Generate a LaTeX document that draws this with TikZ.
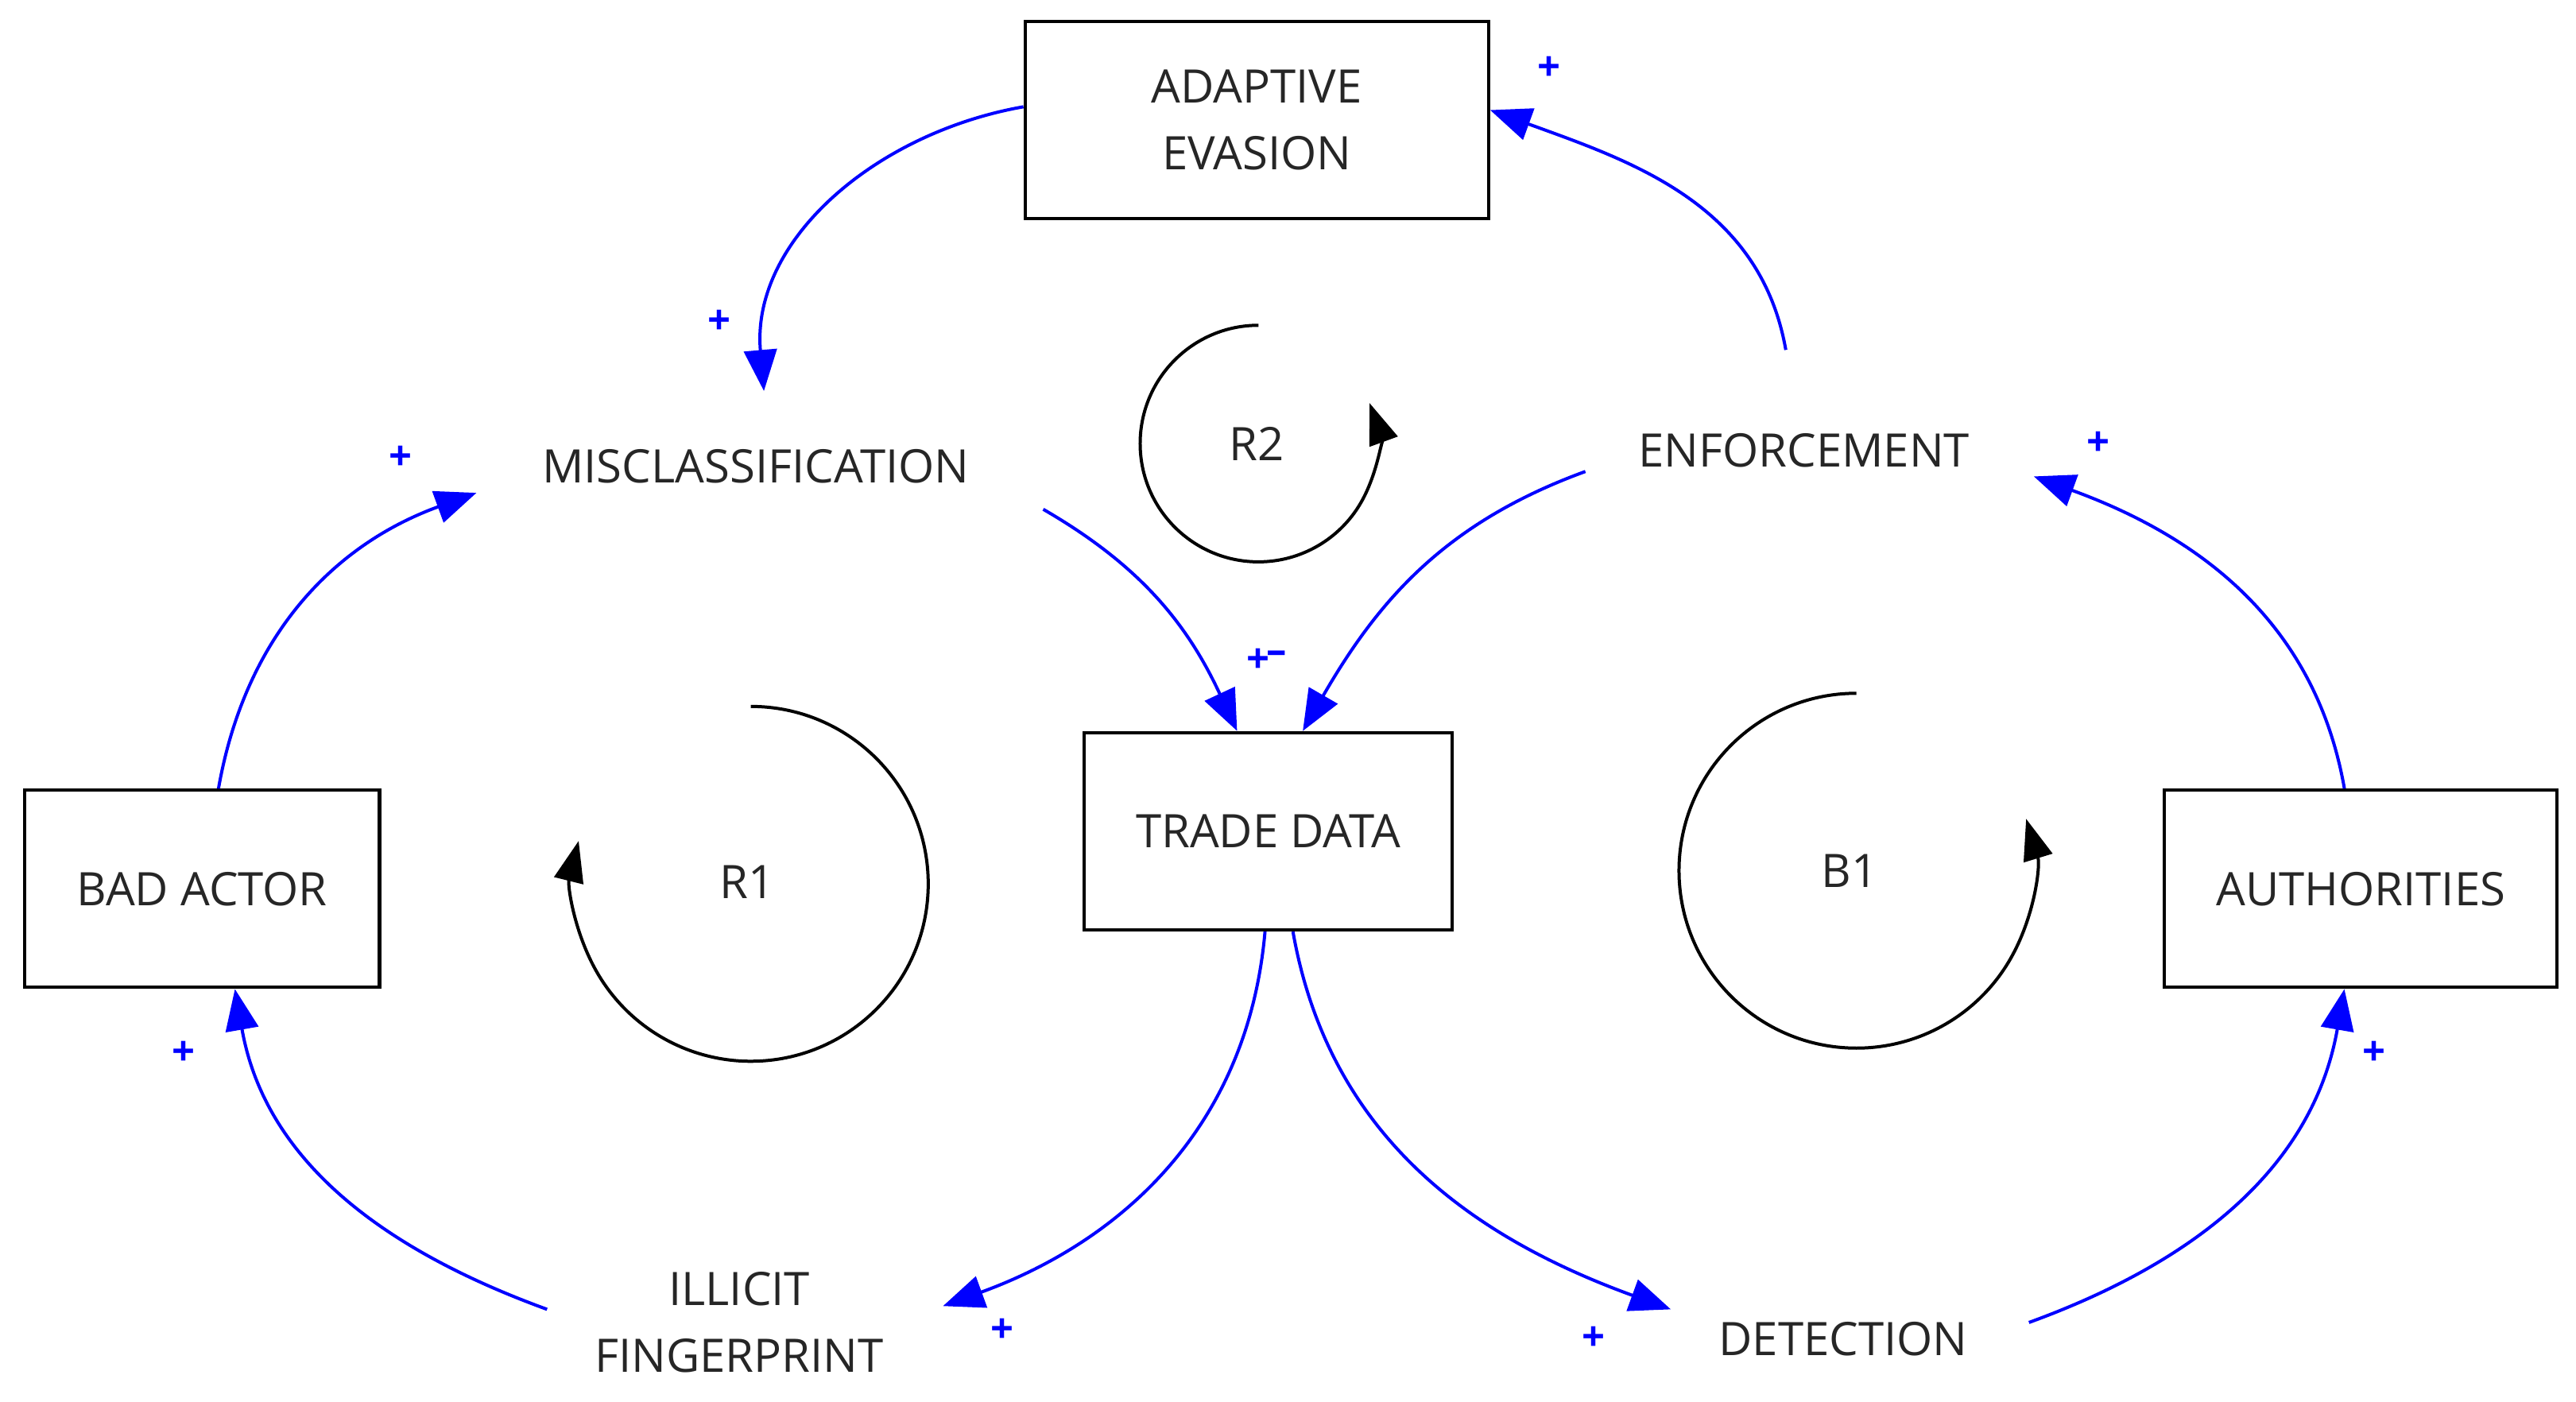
\documentclass[tikz,border=0pt]{standalone}
\usepackage{fontspec}
\setmainfont{Open Sans}
\usetikzlibrary{arrows.meta}
\begin{document}
\begin{tikzpicture}[x=0.02cm,y=0.02cm,
  box/.style={draw,line width=1.2pt,minimum width=#1,inner sep=0pt},
  lbl/.style={font=\fontsize{16}{23}\selectfont,align=center,text=black!85},
  link/.style={draw=blue,line width=1.1pt,-{Triangle[length=0.5cm,width=0.4cm]}},
  loop/.style={line width=1.1pt,-{Triangle[length=0.5cm,width=0.36cm]}},
  pol/.style={text=blue,font=\fontsize{14}{14}\selectfont\bfseries}]
\useasboundingbox (0,0) rectangle (1568,-853);
\node[draw,line width=1.2pt,minimum width=282*0.02cm,minimum height=120*0.02cm,lbl] (ae) at (765,-73) {ADAPTIVE\\EVASION};
\node[draw,line width=1.2pt,minimum width=224*0.02cm,minimum height=120*0.02cm,lbl] (td) at (772,-506) {TRADE DATA};
\node[draw,line width=1.2pt,minimum width=216*0.02cm,minimum height=120*0.02cm,lbl] (ba) at (123,-541) {BAD ACTOR};
\node[draw,line width=1.2pt,minimum width=239*0.02cm,minimum height=120*0.02cm,lbl] (au) at (1437,-541) {AUTHORITIES};
\node[lbl] (mc) at (460,-284) {MISCLASSIFICATION};
\node[lbl] (en) at (1098,-274) {ENFORCEMENT};
\node[lbl] (il) at (450,-805) {ILLICIT\\FINGERPRINT};
\node[lbl] (de) at (1122,-815) {DETECTION};
% connectors
\draw[link] (ae.west |- 0,-65) to[out=190,in=95] (465,-238) coordinate (mcT);
\draw[link] (1087,-213) coordinate (enT) to[out=100,in=-20] (ae.east |- 0,-67);
\draw[link] (ba.north -| 133,0) to[out=80,in=200] (290,-300) coordinate (mcL);
\draw[link] (635,-310) coordinate (mcR) to[out=-30,in=115] (td.north -| 753,0);
\draw[link] (965,-287) coordinate (enL) to[out=200,in=60] (td.north -| 793,0);
\draw[link] (au.north -| 1427,0) to[out=100,in=-20] (1238,-290) coordinate (enR);
\draw[link] (td.south -| 770,0) to[out=-95,in=20] (574,-795) coordinate (ilR);
\draw[link] (td.south -| 787,0) to[out=-80,in=160] (1017,-797) coordinate (deL);
\draw[link] (1235,-805) coordinate (deR) to[out=20,in=-100] (au.south -| 1427,0);
\draw[link] (333,-797) coordinate (ilL) to[out=160,in=-80] (ba.south -| 143,0);
% polarities
\node[pol] at (438,-196) {+};
\node[pol] at (943,-42) {+};
\node[pol] at (244,-279) {+};
\node[pol] at (766,-402) {+};
\node[pol] at (777,-400) {--};
\node[pol] at (1277,-270) {+};
\node[pol] at (610,-810) {+};
\node[pol] at (970,-815) {+};
\node[pol] at (1445,-641) {+};
\node[pol] at (112,-641) {+};
% loops
\draw[loop] (457,-430) arc[start angle=90,end angle=-194,radius=108];
\node[lbl] (r1) at (455,-537) {R1};
\draw[loop] (766,-198) arc[start angle=90,end angle=380,radius=72];
\node[lbl] (r2) at (765,-270) {R2};
\draw[loop] (1130,-422) arc[start angle=90,end angle=377,radius=108];
\node[lbl] (b1) at (1126,-530) {B1};
\end{tikzpicture}
\end{document}
